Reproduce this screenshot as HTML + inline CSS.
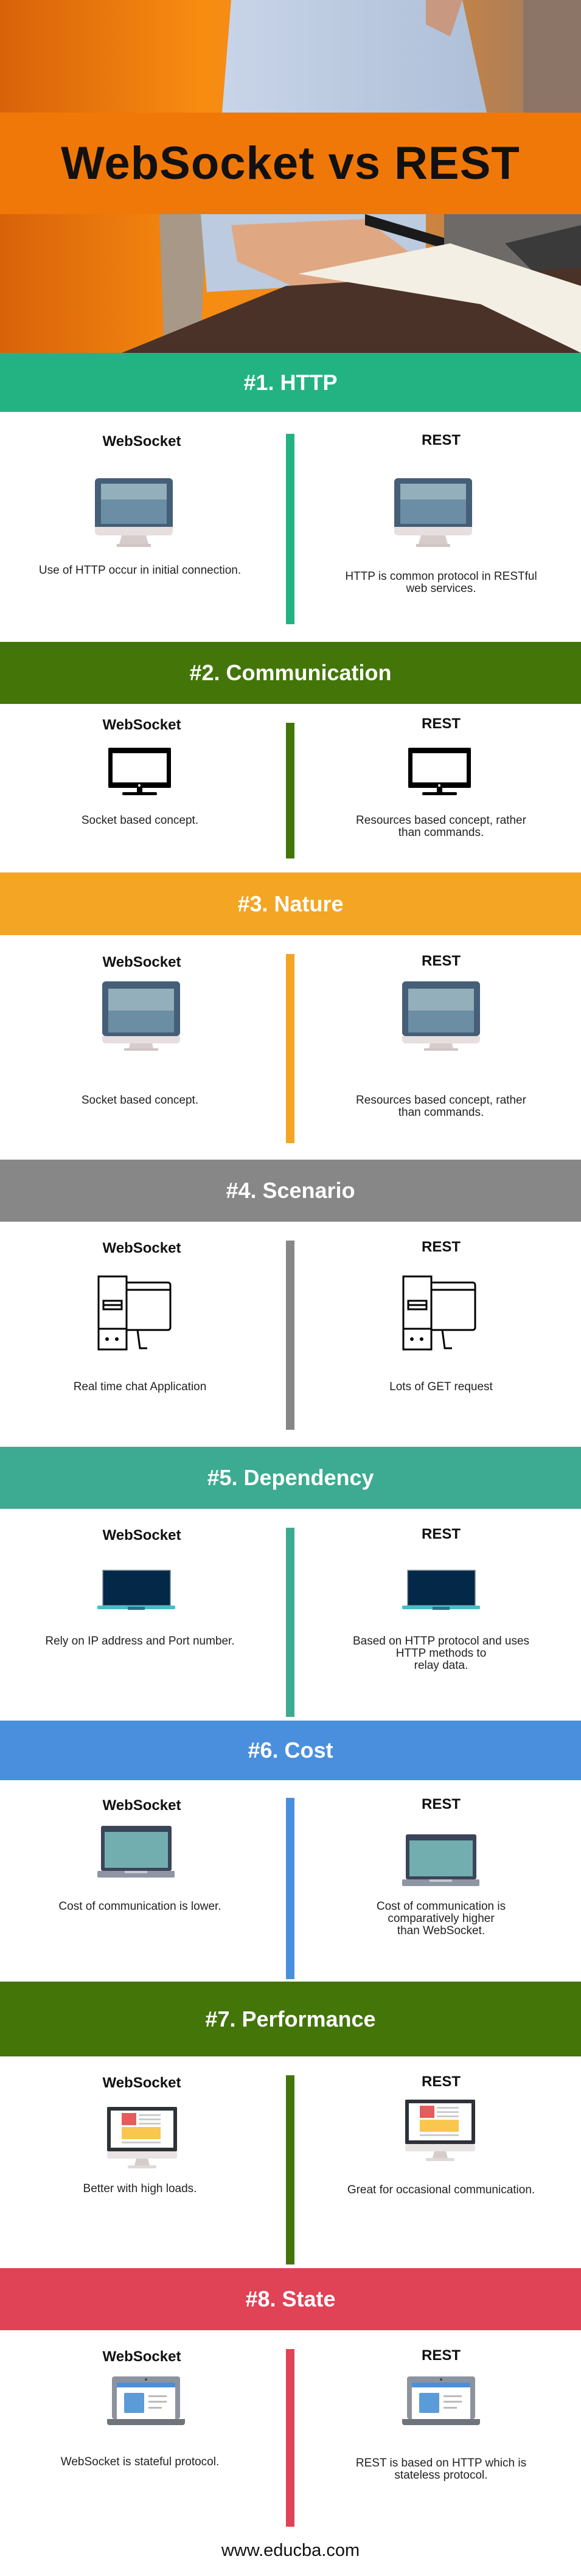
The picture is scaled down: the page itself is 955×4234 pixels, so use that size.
<!DOCTYPE html>
<html><head><meta charset="utf-8">
<style>
*{margin:0;padding:0;box-sizing:border-box}
body{width:955px;height:4234px;position:relative;background:#fff;font-family:"Liberation Sans",sans-serif;overflow:hidden}
.a{position:absolute}
.hd{position:absolute;left:0;width:955px;color:#fff;font-weight:bold;font-size:36px;text-align:center;display:flex;align-items:center;justify-content:center}
.dv{position:absolute;left:470px;width:14px}
.lb{position:absolute;width:300px;text-align:center;font-weight:bold;font-size:24px;color:#111;line-height:28px}
.tx{position:absolute;width:440px;text-align:center;font-size:19px;color:#222;line-height:20px}
.L{left:83px}.R{left:575px}
.tL{left:10px}.tR{left:505px}
</style></head><body>

<!-- photo -->
<svg class="a" style="left:0;top:0" width="955" height="580" viewBox="0 0 955 580">
<defs>
<linearGradient id="bg" x1="0" y1="0" x2="1" y2="0"><stop offset="0" stop-color="#d8620a"/><stop offset="0.35" stop-color="#f88c10"/><stop offset="0.6" stop-color="#e88a2a"/><stop offset="1" stop-color="#9a7a68"/></linearGradient>
<linearGradient id="sh" x1="0" y1="0" x2="1" y2="0"><stop offset="0" stop-color="#c8d4e8"/><stop offset="1" stop-color="#aebfd8"/></linearGradient>
</defs>
<rect width="955" height="580" fill="url(#bg)"/>
<rect x="860" y="0" width="95" height="580" fill="#8c7466"/>
<path d="M380 0 L760 0 L800 185 L365 185 Z" fill="url(#sh)"/>
<path d="M700 0 L760 0 L740 60 L700 40 Z" fill="#c89880"/>
<path d="M262 352 L340 352 L330 560 L270 580 Z" fill="#a89888"/>
<path d="M330 352 L700 352 L700 460 L340 480 Z" fill="#bccbe0"/>
<path d="M380 370 L600 360 L680 420 L720 470 L690 520 L600 520 L480 470 L390 430 Z" fill="#e0a882"/>
<path d="M600 352 L760 400 L770 420 L600 370 Z" fill="#1a1a1a"/>
<path d="M730 352 L955 352 L955 440 L860 460 L730 420 Z" fill="#6e6a68"/>
<path d="M830 400 L955 370 L955 460 L880 450 Z" fill="#3a3a3a"/>
<path d="M200 580 L470 470 L955 440 L955 580 Z" fill="#4a3228"/>
<path d="M490 450 L740 400 L955 470 L955 580 L790 500 Z" fill="#f4efe4"/>
</svg>
<div class="a" style="left:0;top:185px;width:955px;height:167px;background:#f07808"></div>
<div class="a" style="left:0;top:185px;width:955px;height:167px;display:flex;align-items:center;justify-content:center;font-weight:bold;font-size:76px;color:#111;letter-spacing:1px">WebSocket vs REST</div>

<!-- Section 1 -->
<div class="hd" style="top:580px;height:97px;background:#23b383">#1. HTTP</div>
<div class="dv" style="top:713px;height:313px;background:#23b383"></div>
<div class="lb L" style="top:712px">WebSocket</div>
<div class="lb R" style="top:710px">REST</div>
<svg class="a" style="left:156px;top:786px" width="128" height="113"><rect width="128" height="90" rx="6" fill="#465f78"/><rect x="10" y="9" width="108" height="26" fill="#93afbb"/><rect x="10" y="35" width="108" height="40" fill="#6b8ea5"/><path d="M0 80 H128 V88 a6 6 0 0 1 -6 6 H6 a6 6 0 0 1 -6 -6Z" fill="#e6dedf"/><path d="M44 94 H84 L88 108 H40Z" fill="#d6cccc"/><rect x="36" y="108" width="56" height="5" fill="#d0c4c4"/></svg>
<svg class="a" style="left:648px;top:786px" width="128" height="113"><rect width="128" height="90" rx="6" fill="#465f78"/><rect x="10" y="9" width="108" height="26" fill="#93afbb"/><rect x="10" y="35" width="108" height="40" fill="#6b8ea5"/><path d="M0 80 H128 V88 a6 6 0 0 1 -6 6 H6 a6 6 0 0 1 -6 -6Z" fill="#e6dedf"/><path d="M44 94 H84 L88 108 H40Z" fill="#d6cccc"/><rect x="36" y="108" width="56" height="5" fill="#d0c4c4"/></svg>
<div class="tx tL" style="top:928px">Use of HTTP occur in initial connection.</div>
<div class="tx tR" style="top:938px">HTTP is common protocol in RESTful<br>web services.</div>

<!-- Section 2 -->
<div class="hd" style="top:1055px;height:102px;background:#437508">#2. Communication</div>
<div class="dv" style="top:1188px;height:223px;background:#437508"></div>
<div class="lb L" style="top:1178px">WebSocket</div>
<div class="lb R" style="top:1176px">REST</div>
<svg class="a" style="left:178px;top:1229px" width="103" height="78"><rect width="103" height="66" rx="2" fill="#000"/><rect x="7" y="9" width="89" height="48" fill="#fff"/><circle cx="51" cy="62" r="2" fill="#fff"/><rect x="47" y="66" width="9" height="8" fill="#000"/><rect x="23" y="73" width="57" height="5" rx="2" fill="#000"/></svg>
<svg class="a" style="left:671px;top:1229px" width="103" height="78"><rect width="103" height="66" rx="2" fill="#000"/><rect x="7" y="9" width="89" height="48" fill="#fff"/><circle cx="51" cy="62" r="2" fill="#fff"/><rect x="47" y="66" width="9" height="8" fill="#000"/><rect x="23" y="73" width="57" height="5" rx="2" fill="#000"/></svg>
<div class="tx tL" style="top:1339px">Socket based concept.</div>
<div class="tx tR" style="top:1339px">Resources based concept, rather<br>than commands.</div>

<!-- Section 3 -->
<div class="hd" style="top:1434px;height:103px;background:#f4a523">#3. Nature</div>
<div class="dv" style="top:1568px;height:311px;background:#f4a523"></div>
<div class="lb L" style="top:1568px">WebSocket</div>
<div class="lb R" style="top:1566px">REST</div>
<svg class="a" style="left:168px;top:1613px" width="128" height="114"><rect width="128" height="90" rx="6" fill="#465f78"/><rect x="10" y="12" width="108" height="36" fill="#93afbb"/><rect x="10" y="48" width="108" height="36" fill="#6b8ea5"/><path d="M0 90 H128 V96 a6 6 0 0 1 -6 6 H6 a6 6 0 0 1 -6 -6Z" fill="#e6dedf"/><path d="M46 102 H82 L84 110 H44Z" fill="#d6cccc"/><rect x="36" y="110" width="56" height="4" fill="#d0c4c4"/></svg>
<svg class="a" style="left:661px;top:1613px" width="128" height="114"><rect width="128" height="90" rx="6" fill="#465f78"/><rect x="10" y="12" width="108" height="36" fill="#93afbb"/><rect x="10" y="48" width="108" height="36" fill="#6b8ea5"/><path d="M0 90 H128 V96 a6 6 0 0 1 -6 6 H6 a6 6 0 0 1 -6 -6Z" fill="#e6dedf"/><path d="M46 102 H82 L84 110 H44Z" fill="#d6cccc"/><rect x="36" y="110" width="56" height="4" fill="#d0c4c4"/></svg>
<div class="tx tL" style="top:1799px">Socket based concept.</div>
<div class="tx tR" style="top:1799px">Resources based concept, rather<br>than commands.</div>

<!-- Section 4 -->
<div class="hd" style="top:1906px;height:102px;background:#878787">#4. Scenario</div>
<div class="dv" style="top:2039px;height:311px;background:#878787"></div>
<div class="lb L" style="top:2038px">WebSocket</div>
<div class="lb R" style="top:2036px">REST</div>
<svg class="a" style="left:160px;top:2096px" width="124" height="124" fill="none" stroke="#000" stroke-width="3"><rect x="2" y="2" width="46" height="120"/><line x1="2" y1="88" x2="48" y2="88"/><rect x="10" y="42" width="30" height="14"/><line x1="10" y1="49" x2="40" y2="49"/><circle cx="16" cy="105" r="1.5" fill="#000"/><circle cx="32" cy="105" r="1.5" fill="#000"/><path d="M48 12 H116 a4 4 0 0 1 4 4 V86 a4 4 0 0 1 -4 4 H48"/><line x1="48" y1="24" x2="120" y2="24"/><path d="M66 90 L70 120 H82"/></svg>
<svg class="a" style="left:661px;top:2096px" width="124" height="124" fill="none" stroke="#000" stroke-width="3"><rect x="2" y="2" width="46" height="120"/><line x1="2" y1="88" x2="48" y2="88"/><rect x="10" y="42" width="30" height="14"/><line x1="10" y1="49" x2="40" y2="49"/><circle cx="16" cy="105" r="1.5" fill="#000"/><circle cx="32" cy="105" r="1.5" fill="#000"/><path d="M48 12 H116 a4 4 0 0 1 4 4 V86 a4 4 0 0 1 -4 4 H48"/><line x1="48" y1="24" x2="120" y2="24"/><path d="M66 90 L70 120 H82"/></svg>
<div class="tx tL" style="top:2270px">Real time chat Application</div>
<div class="tx tR" style="top:2270px">Lots of GET request</div>

<!-- Section 5 -->
<div class="hd" style="top:2378px;height:102px;background:#3dab91">#5. Dependency</div>
<div class="dv" style="top:2511px;height:311px;background:#3dab91"></div>
<div class="lb L" style="top:2510px">WebSocket</div>
<div class="lb R" style="top:2508px">REST</div>
<svg class="a" style="left:160px;top:2579px" width="128" height="72"><rect x="9" y="2" width="111" height="58" fill="#042848" stroke="#7a8a98" stroke-width="1.5"/><rect x="0" y="60" width="128" height="6" rx="2" fill="#49bcc8"/><rect x="50" y="62" width="28" height="5" fill="#2a6f8a"/></svg>
<svg class="a" style="left:661px;top:2579px" width="128" height="72"><rect x="9" y="2" width="111" height="58" fill="#042848" stroke="#7a8a98" stroke-width="1.5"/><rect x="0" y="60" width="128" height="6" rx="2" fill="#49bcc8"/><rect x="50" y="62" width="28" height="5" fill="#2a6f8a"/></svg>
<div class="tx tL" style="top:2688px">Rely on IP address and Port number.</div>
<div class="tx tR" style="top:2688px">Based on HTTP protocol and uses<br>HTTP methods to<br>relay data.</div>

<!-- Section 6 -->
<div class="hd" style="top:2828px;height:98px;background:#4a8fde">#6. Cost</div>
<div class="dv" style="top:2955px;height:298px;background:#4a8fde"></div>
<div class="lb L" style="top:2954px">WebSocket</div>
<div class="lb R" style="top:2952px">REST</div>
<svg class="a" style="left:160px;top:3001px" width="127" height="85"><rect x="6" y="0" width="116" height="74" rx="3" fill="#3b4458"/><rect x="12" y="10" width="104" height="59" fill="#72aeb0"/><rect x="0" y="74" width="127" height="11" rx="2" fill="#8f95a2"/><rect x="45" y="74" width="37" height="4" fill="#c4c8d0"/></svg>
<svg class="a" style="left:661px;top:3015px" width="127" height="85"><rect x="6" y="0" width="116" height="74" rx="3" fill="#3b4458"/><rect x="12" y="10" width="104" height="59" fill="#72aeb0"/><rect x="0" y="74" width="127" height="11" rx="2" fill="#8f95a2"/><rect x="45" y="74" width="37" height="4" fill="#c4c8d0"/></svg>
<div class="tx tL" style="top:3124px">Cost of communication is lower.</div>
<div class="tx tR" style="top:3124px">Cost of communication is<br>comparatively higher<br>than WebSocket.</div>

<!-- Section 7 -->
<div class="hd" style="top:3257px;height:123px;background:#437508;padding-top:0">#7. Performance</div>
<div class="dv" style="top:3411px;height:311px;background:#437508"></div>
<div class="lb L" style="top:3410px">WebSocket</div>
<div class="lb R" style="top:3408px">REST</div>
<svg class="a" style="left:176px;top:3463px" width="115" height="104"><rect width="115" height="73" rx="2" fill="#2d3138"/><rect x="6" y="6" width="103" height="61" fill="#fff"/><rect x="24" y="10" width="24" height="20" fill="#e65c5c"/><rect x="52" y="12" width="36" height="3" fill="#ccc"/><rect x="52" y="19" width="36" height="3" fill="#ccc"/><rect x="52" y="26" width="36" height="3" fill="#ccc"/><rect x="24" y="33" width="64" height="20" fill="#f9c74f"/><rect x="24" y="57" width="64" height="3" fill="#ccc"/><rect x="0" y="73" width="115" height="12" rx="3" fill="#e8e4e4"/><path d="M48 85 H67 L70 96 H45Z" fill="#d6cccc"/><rect x="34" y="96" width="47" height="5" rx="2" fill="#e0d8d8"/></svg>
<svg class="a" style="left:666px;top:3451px" width="115" height="104"><rect width="115" height="73" rx="2" fill="#2d3138"/><rect x="6" y="6" width="103" height="61" fill="#fff"/><rect x="24" y="10" width="24" height="20" fill="#e65c5c"/><rect x="52" y="12" width="36" height="3" fill="#ccc"/><rect x="52" y="19" width="36" height="3" fill="#ccc"/><rect x="52" y="26" width="36" height="3" fill="#ccc"/><rect x="24" y="33" width="64" height="20" fill="#f9c74f"/><rect x="24" y="57" width="64" height="3" fill="#ccc"/><rect x="0" y="73" width="115" height="12" rx="3" fill="#e8e4e4"/><path d="M48 85 H67 L70 96 H45Z" fill="#d6cccc"/><rect x="34" y="96" width="47" height="5" rx="2" fill="#e0d8d8"/></svg>
<div class="tx tL" style="top:3588px">Better with high loads.</div>
<div class="tx tR" style="top:3590px">Great for occasional communication.</div>

<!-- Section 8 -->
<div class="hd" style="top:3728px;height:102px;background:#e04256">#8. State</div>
<div class="dv" style="top:3861px;height:292px;background:#e04256"></div>
<div class="lb L" style="top:3860px">WebSocket</div>
<div class="lb R" style="top:3858px">REST</div>
<svg class="a" style="left:176px;top:3906px" width="128" height="80"><rect x="8" y="0" width="112" height="70" rx="4" fill="#8d939e"/><circle cx="64" cy="5" r="2" fill="#444"/><rect x="16" y="10" width="96" height="60" fill="#fff"/><rect x="16" y="10" width="96" height="8" fill="#4a8fde"/><rect x="28" y="27" width="33" height="33" rx="2" fill="#5b9bd8"/><rect x="68" y="31" width="30" height="3" fill="#bbb"/><rect x="68" y="40" width="30" height="3" fill="#bbb"/><rect x="68" y="50" width="22" height="3" fill="#bbb"/><path d="M0 70 H128 V76 a4 4 0 0 1 -4 4 H4 a4 4 0 0 1 -4 -4Z" fill="#6e737c"/></svg>
<svg class="a" style="left:661px;top:3906px" width="128" height="80"><rect x="8" y="0" width="112" height="70" rx="4" fill="#8d939e"/><circle cx="64" cy="5" r="2" fill="#444"/><rect x="16" y="10" width="96" height="60" fill="#fff"/><rect x="16" y="10" width="96" height="8" fill="#4a8fde"/><rect x="28" y="27" width="33" height="33" rx="2" fill="#5b9bd8"/><rect x="68" y="31" width="30" height="3" fill="#bbb"/><rect x="68" y="40" width="30" height="3" fill="#bbb"/><rect x="68" y="50" width="22" height="3" fill="#bbb"/><path d="M0 70 H128 V76 a4 4 0 0 1 -4 4 H4 a4 4 0 0 1 -4 -4Z" fill="#6e737c"/></svg>
<div class="tx tL" style="top:4037px">WebSocket is stateful protocol.</div>
<div class="tx tR" style="top:4039px">REST is based on HTTP which is<br>stateless protocol.</div>

<div class="a" style="left:0;top:4174px;width:955px;text-align:center;font-size:29px;color:#111;line-height:36px">www.educba.com</div>
</body></html>
